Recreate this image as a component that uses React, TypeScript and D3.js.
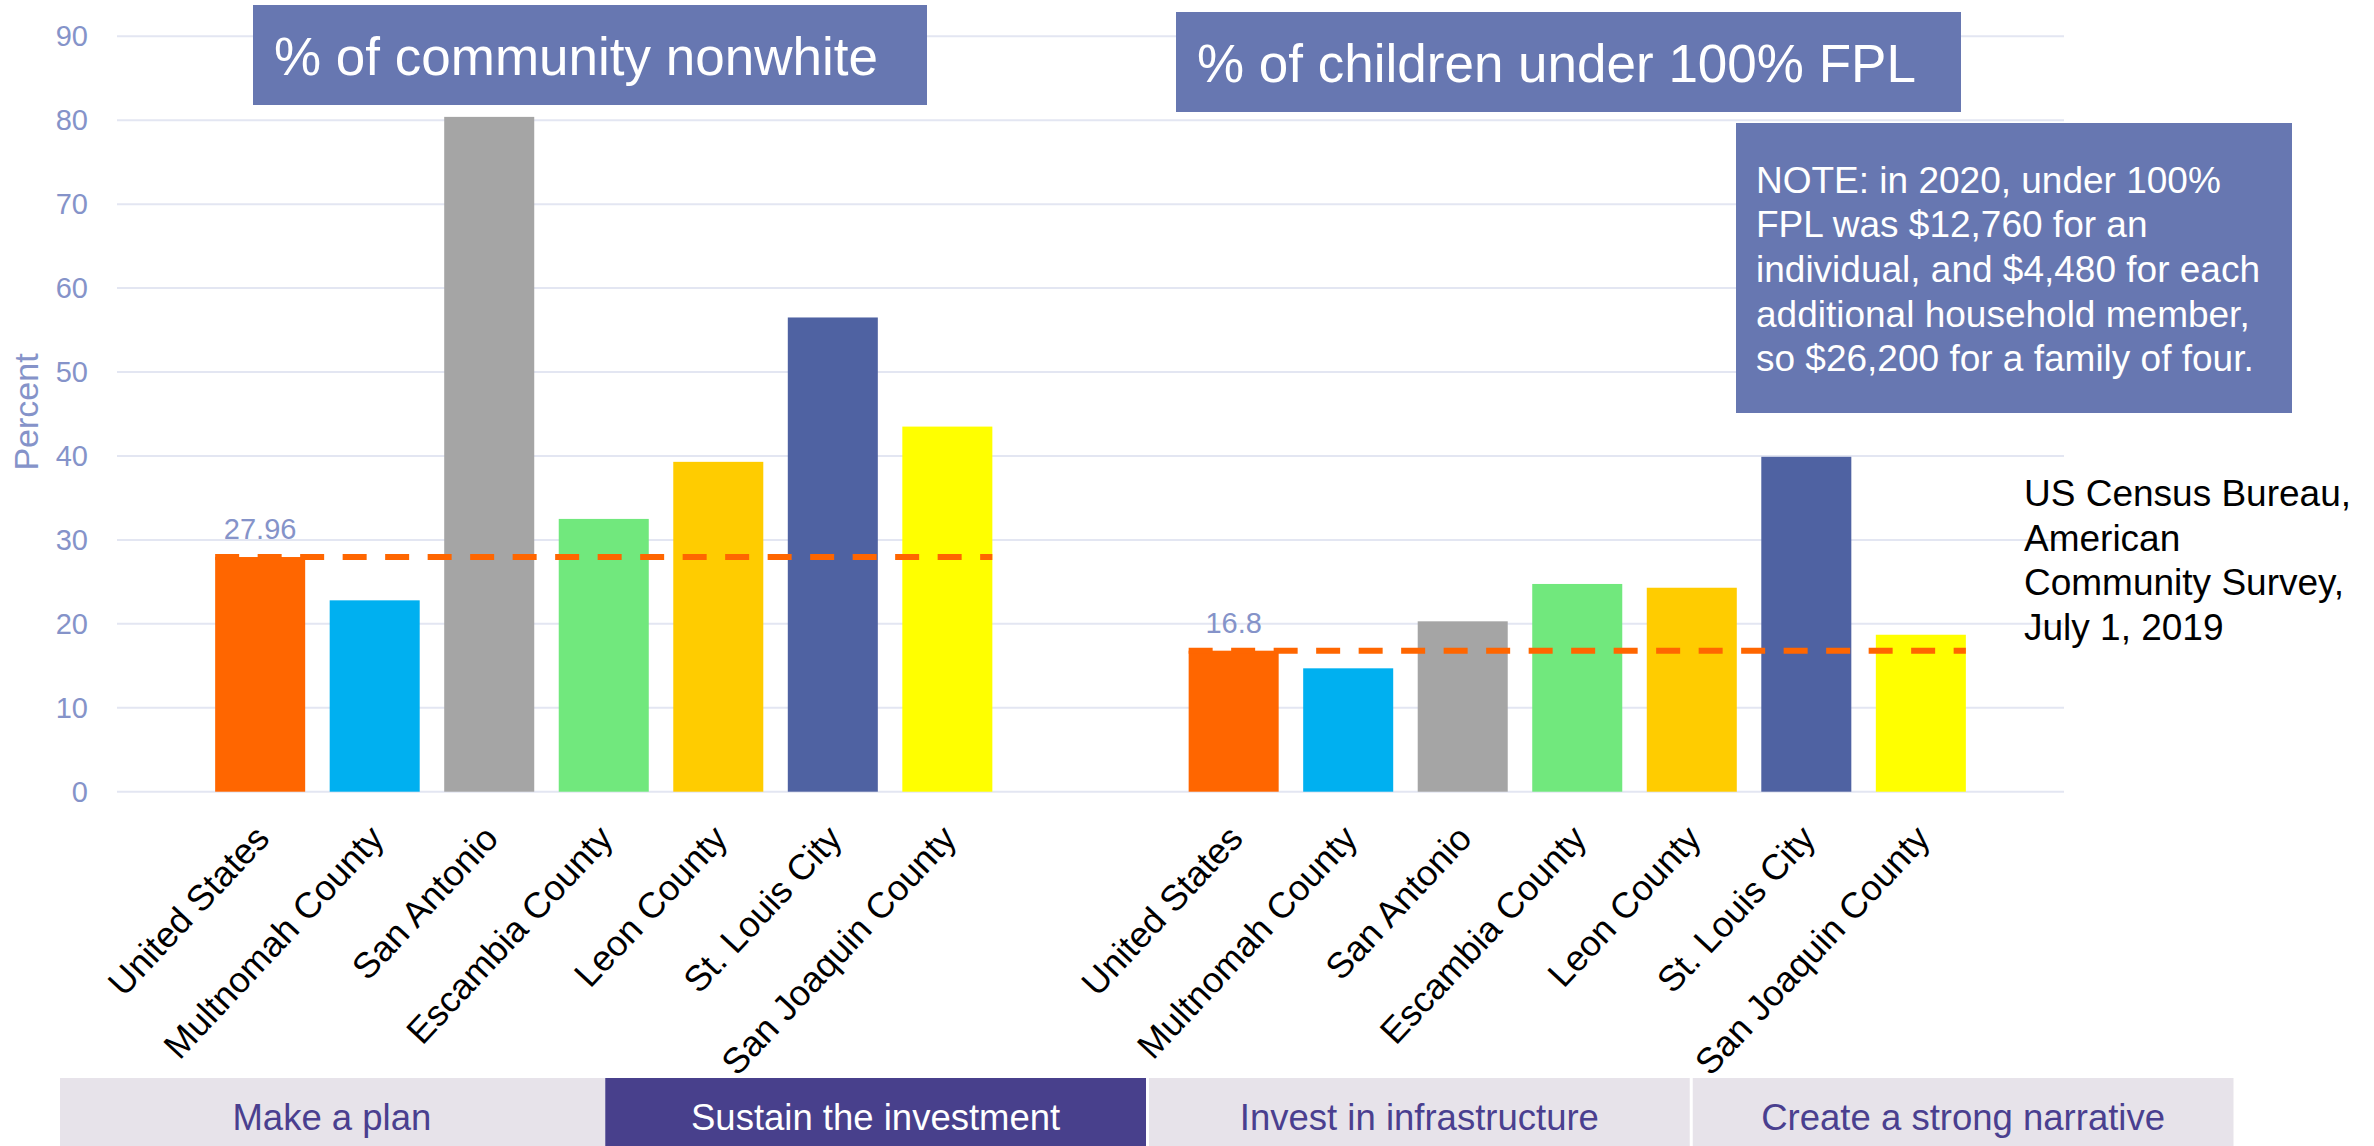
import React from "react";
import * as d3 from "d3";

const categories = [
  "United States",
  "Multnomah County",
  "San Antonio",
  "Escambia County",
  "Leon County",
  "St. Louis City",
  "San Joaquin County",
];
const barColors = ["#FF6600", "#00B0F0", "#A5A5A5", "#71E87D", "#FFCC00", "#4F62A2", "#FFFF00"];
const nonwhiteValues = [27.96, 22.8, 80.4, 32.5, 39.3, 56.5, 43.5];
const povertyValues = [16.8, 14.7, 20.3, 24.75, 24.3, 39.9, 18.7];
const referenceValues = [27.96, 16.8];
const referenceLabels = ["27.96", "16.8"];
const groupTitles = ["% of community nonwhite", "% of children under 100% FPL"];
const yTicks = [0, 10, 20, 30, 40, 50, 60, 70, 80, 90];
const noteLines = [
  "NOTE: in 2020, under 100%",
  "FPL was $12,760 for an",
  "individual, and $4,480 for each",
  "additional household member,",
  "so $26,200 for a family of four.",
];
const sourceLines = ["US Census Bureau,", "American", "Community Survey,", "July 1, 2019"];
const navItems = ["Make a plan", "Sustain the investment", "Invest in infrastructure", "Create a strong narrative"];
const navActive = [false, true, false, false];

const W = 2374;
const H = 1146;
const FONT = "Arial, 'Liberation Sans', sans-serif";

export default function App() {
  const plotLeft = 117;
  const plotRight = 2064;
  const y = d3.scaleLinear().domain([0, 90]).range([791.7, 36.3]);
  const x = d3.scaleLinear().domain([-1.25, 15.75]).range([plotLeft, plotRight]);
  const step = x(1) - x(0);
  const bw = step * 0.786;
  const groupOffset = [0, 8.5];
  const groups = [nonwhiteValues, povertyValues];

  const titleBoxes = [
    { x: 253, y: 5, w: 674, h: 100, tx: 274, ty: 75 },
    { x: 1176, y: 12, w: 785, h: 100, tx: 1197, ty: 82 },
  ];

  const navX0 = 60;
  const navX1 = 2235;
  const navW = (navX1 - navX0) / navItems.length;

  return (
    <svg
      width={W}
      height={H}
      style={{ position: "absolute", left: 0, top: 0, display: "block", background: "#fff" }}
      fontFamily={FONT}
    >
      <rect x={0} y={0} width={W} height={H} fill="#ffffff" />
      {yTicks.map((t) => (
        <g key={t}>
          <line x1={plotLeft} x2={plotRight} y1={y(t)} y2={y(t)} stroke="#E3E6F2" strokeWidth={2} />
          <text x={88} y={y(t)} dy="0.35em" textAnchor="end" fontSize={29} fill="#8593C9">
            {t}
          </text>
        </g>
      ))}
      <text
        transform={`translate(38, 412) rotate(-90)`}
        textAnchor="middle"
        fontSize={34}
        fill="#8593C9"
      >
        Percent
      </text>

      {groups.map((vals, g) =>
        vals.map((v, i) => {
          const cx = x(i + groupOffset[g]);
          return (
            <rect
              key={`${g}-${i}`}
              x={cx - bw / 2}
              y={y(v)}
              width={bw}
              height={y(0) - y(v)}
              fill={barColors[i]}
            />
          );
        })
      )}

      {referenceValues.map((rv, g) => {
        const x1 = x(groupOffset[g]) - bw / 2;
        const x2 = x(6 + groupOffset[g]) + bw / 2;
        return (
          <g key={g}>
            <line
              x1={x1}
              x2={x2}
              y1={y(rv)}
              y2={y(rv)}
              stroke="#FF6600"
              strokeWidth={6}
              strokeDasharray="24 18.5"
            />
            <text
              x={x(groupOffset[g])}
              y={y(rv) - 18}
              textAnchor="middle"
              fontSize={29}
              fill="#8593C9"
            >
              {referenceLabels[g]}
            </text>
          </g>
        );
      })}

      {groups.map((vals, g) =>
        categories.map((c, i) => {
          const cx = x(i + groupOffset[g]);
          return (
            <text
              key={`l-${g}-${i}`}
              transform={`translate(${cx + 11}, 840) rotate(-47)`}
              textAnchor="end"
              fontSize={36}
              fill="#000"
            >
              {c}
            </text>
          );
        })
      )}

      {titleBoxes.map((b, i) => (
        <g key={`t-${i}`}>
          <rect x={b.x} y={b.y} width={b.w} height={b.h} fill="#6777B1" />
          <text x={b.tx} y={b.ty} fontSize={53} fill="#fff">
            {groupTitles[i]}
          </text>
        </g>
      ))}

      <rect x={1736} y={123} width={556} height={290} fill="#6777B1" />
      {noteLines.map((l, i) => (
        <text key={`n-${i}`} x={1756} y={192.7 + i * 44.6} fontSize={37} fill="#fff">
          {l}
        </text>
      ))}

      {sourceLines.map((l, i) => (
        <text key={`s-${i}`} x={2024} y={506 + i * 44.6} fontSize={37} fill="#000">
          {l}
        </text>
      ))}

      {navItems.map((n, i) => {
        const sx = navX0 + i * navW;
        return (
          <g key={`nav-${i}`}>
            <rect
              x={sx + (i > 0 ? 1.5 : 0)}
              y={1078}
              width={navW - (i > 0 ? 3 : 0) + (i === 0 ? 1.5 : 0)}
              height={H - 1078}
              fill={navActive[i] ? "#48408C" : "#E7E3EA"}
            />
            <text
              x={sx + navW / 2}
              y={1130}
              textAnchor="middle"
              fontSize={36.5}
              fill={navActive[i] ? "#ffffff" : "#4A3F8F"}
            >
              {n}
            </text>
          </g>
        );
      })}
    </svg>
  );
}
